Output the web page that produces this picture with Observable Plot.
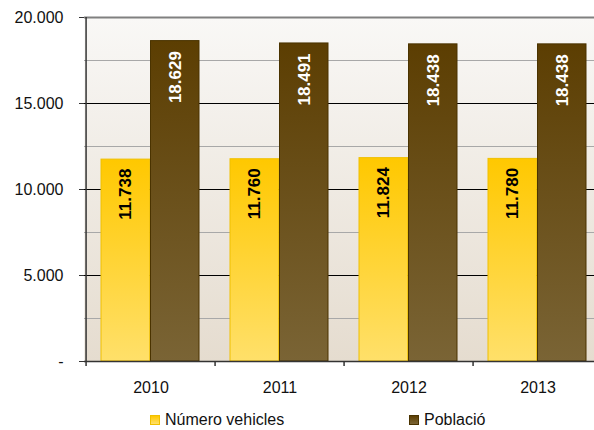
<!DOCTYPE html>
<html>
<head>
<meta charset="utf-8">
<script src="https://cdn.jsdelivr.net/npm/d3@7"></script>
<script src="https://cdn.jsdelivr.net/npm/@observablehq/plot@0.6"></script>
<style>
  body { margin: 0; background: #fff; font-family: "Liberation Sans", Arial, sans-serif; }
  #wrap { position: relative; width: 594px; height: 430px; }
  .leg { position: absolute; top: 411px; font-size: 16px; color: #111; display: flex; align-items: center; }
  .sw { width: 10px; height: 10px; margin-right: 5px; box-sizing: border-box; }
</style>
</head>
<body>
<div id="wrap">
  <div id="chart"></div>
  <div class="leg" style="left:150px"><div class="sw" style="background:linear-gradient(#ffc800,#ffe06a);border:1px solid #f0c000"></div><span>Número vehicles</span></div>
  <div class="leg" style="left:409px"><div class="sw" style="background:linear-gradient(#5c3e02,#7a6435);border:1px solid #4a3300"></div><span>Població</span></div>
</div>
<script>
const years = ["2010", "2011", "2012", "2013"];
const vehicles = [11738, 11760, 11824, 11780];
const poblacio = [18629, 18491, 18438, 18438];
const seriesNames = ["Número vehicles", "Població"];
const yTicks = [0, 5000, 10000, 15000, 20000];
const minorGrid = [2500, 7500, 12500, 17500];
const majorGrid = [5000, 10000, 15000];

const loc = d3.formatLocale({decimal: ",", thousands: ".", grouping: [3], currency: ["", ""]});
const fmt = loc.format(",d");

const vehData = years.map((y, i) => ({year: y, value: vehicles[i], series: seriesNames[0]}));
const popData = years.map((y, i) => ({year: y, value: poblacio[i], series: seriesNames[1]}));

const xRange = [84, 603.4];
const bw = (xRange[1] - xRange[0]) / years.length;

const chart = Plot.plot({
  width: 594,
  height: 400,
  marginLeft: 84,
  marginRight: 0,
  marginTop: 17,
  marginBottom: 39,
  style: {fontFamily: "'Liberation Sans', Arial, sans-serif", fontSize: "16px", color: "#111", background: "transparent"},
  x: {domain: years, range: xRange, padding: 0, label: null},
  y: {domain: [0, 20000], label: null},
  marks: [
    Plot.frame({fill: "url(#bgGrad)", stroke: null}),
    Plot.ruleY(minorGrid, {stroke: "#a8a8a8", strokeWidth: 1}),
    Plot.ruleY(majorGrid, {stroke: "#000", strokeWidth: 1}),
    Plot.ruleY([20000], {stroke: "#808080", strokeWidth: 2}),
    Plot.barY(vehData, {x: "year", y: "value", fill: "url(#yGrad)", stroke: "#f0c000", strokeWidth: 1, insetLeft: 15, insetRight: 65.3}),
    Plot.barY(popData, {x: "year", y: "value", fill: "url(#bGrad)", stroke: "#4a3300", strokeWidth: 1, insetLeft: 64.5, insetRight: 16}),
    Plot.text(vehData, {x: "year", y: "value", text: d => fmt(d.value), rotate: -90, textAnchor: "end", dy: 9, dx: -25, fontWeight: "bold", fontSize: 17, fill: "#000"}),
    Plot.text(popData, {x: "year", y: "value", text: d => fmt(d.value), rotate: -90, textAnchor: "end", dy: 10, dx: 24.5, fontWeight: "bold", fontSize: 17, fill: "#fff"}),
    Plot.ruleY([0], {stroke: "#333", strokeWidth: 1.5}),
    Plot.ruleX(years.slice(0, 1), {x: d => d, y1: 20000, y2: 0, insetBottom: -5, dx: -bw / 2, stroke: "#333", strokeWidth: 1.5}),
    Plot.ruleX(years.slice(1), {x: d => d, y1: 0, y2: 0, insetBottom: -5, dx: -bw / 2, stroke: "#333", strokeWidth: 1.5}),
    Plot.axisY({ticks: yTicks, tickSize: 5, tickPadding: 16, tickFormat: d => d === 0 ? "-" : fmt(d), stroke: "#333", fill: "#111", fontSize: 16}),
    Plot.axisX({tickSize: 0, tickPadding: 20, fill: "#111", fontSize: 16})
  ]
});

const ns = "http://www.w3.org/2000/svg";
const defs = document.createElementNS(ns, "defs");
function grad(id, stops) {
  const g = document.createElementNS(ns, "linearGradient");
  g.setAttribute("id", id);
  g.setAttribute("x1", "0"); g.setAttribute("y1", "0");
  g.setAttribute("x2", "0"); g.setAttribute("y2", "1");
  stops.forEach(([o, c]) => {
    const s = document.createElementNS(ns, "stop");
    s.setAttribute("offset", o);
    s.setAttribute("stop-color", c);
    g.appendChild(s);
  });
  defs.appendChild(g);
}
grad("bgGrad", [["0", "#f9f8f6"], ["1", "#e5dccf"]]);
grad("yGrad", [["0", "#ffc800"], ["1", "#ffe06a"]]);
grad("bGrad", [["0", "#5c3e02"], ["1", "#7a6435"]]);
chart.insertBefore(defs, chart.firstChild);

document.getElementById("chart").appendChild(chart);
</script>
</body>
</html>
